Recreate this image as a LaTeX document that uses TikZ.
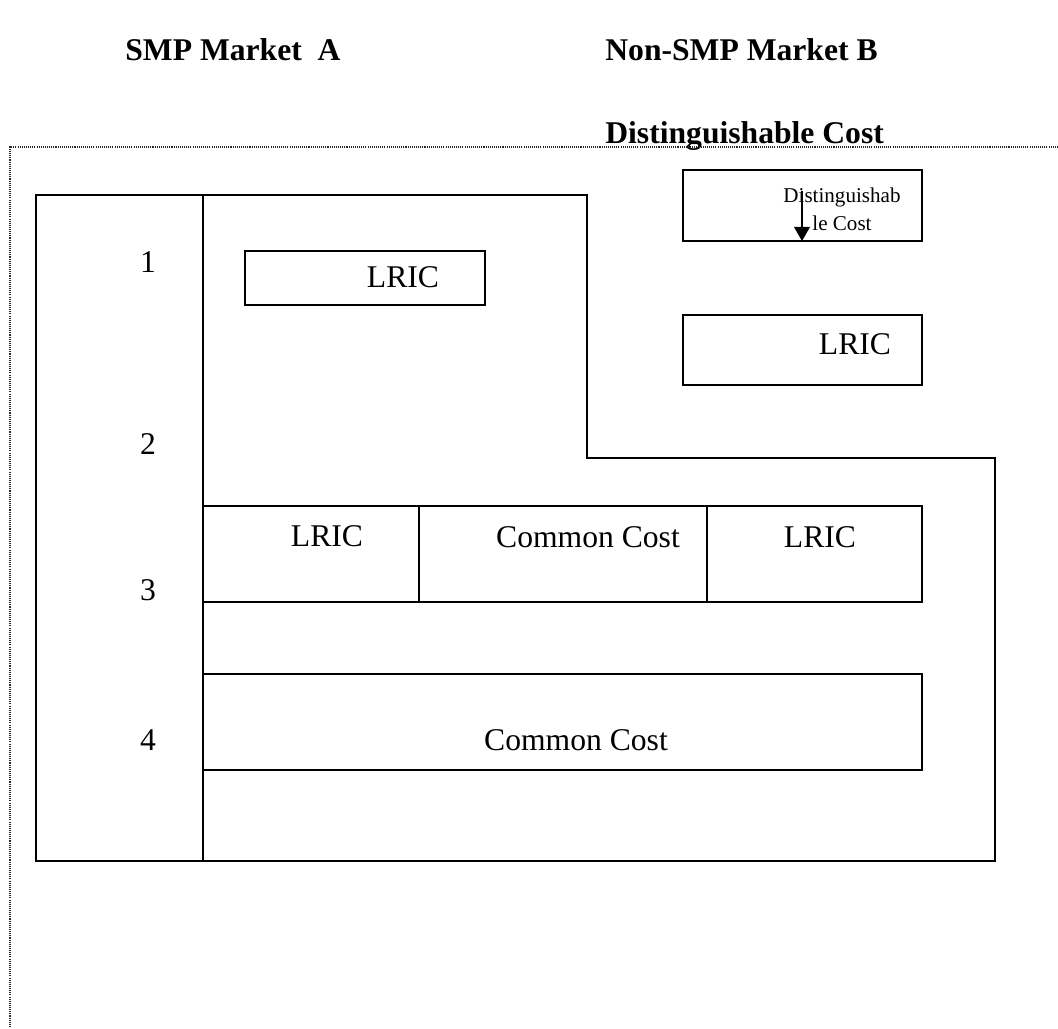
\documentclass[tikz,border=0pt]{standalone}
\usepackage{fontspec}
\setmainfont{Liberation Serif}
\usetikzlibrary{arrows.meta}

\tikzset{
  outline/.style={line width=1.1pt},
  costlabel/.style={font=\fontsize{18}{21}\selectfont, inner sep=0pt},
  headlabel/.style={font=\fontsize{18}{21}\selectfont\bfseries, inner sep=0pt, anchor=base west},
  smalllabel/.style={font=\fontsize{12}{16}\selectfont, align=center, inner sep=0pt},
  borderline/.style={line width=0.7pt, dash pattern=on 0.6pt off 0.6pt, black!85}
}

\begin{document}
\begin{tikzpicture}[x=0.02cm,y=-0.02cm]
\useasboundingbox (0,0) rectangle (1058,1028);
% headings
\node[headlabel] (headA) at (125,60) {SMP Market~~A};
\node[headlabel] (headB) at (605,60) {Non-SMP Market B};
\node[headlabel] (headD) at (605,143) {Distinguishable Cost};
% dotted frame
\draw[borderline] (1058,147) -- (10,147) -- (10,1028);
% market A column and outer outline
\draw[outline] (36,195) rectangle (203,861);
\draw[outline] (203,195) -- (587,195) -- (587,458) -- (995,458) -- (995,861) -- (203,861);
\foreach \n/\y in {1/262,2/444,3/590,4/740}
  \node[costlabel] (num\n) at (148,\y) {\n};
% upper boxes
\draw[outline] (245,251) rectangle (485,305);
\node[costlabel] (lricA) at (403,277) {LRIC};
\draw[outline] (683,170) rectangle (922,241);
\coordinate (distbase) at (683,241);
\node[smalllabel] (distB) at (842,209) {Distinguishab\\le Cost};
\coordinate (arrtop) at (802,191);
\draw[line width=0.7pt, -{Triangle[length=8pt,width=9pt]}] (arrtop) -- (arrtop |- distbase);
\draw[outline] (683,315) rectangle (922,385);
\node[costlabel] (lricB) at (855,344) {LRIC};
% row 3
\draw[outline] (203,506) rectangle (922,602);
\draw[outline] (419,506) -- (419,602);
\draw[outline] (707,506) -- (707,602);
\node[costlabel] (lricC) at (327,536) {LRIC};
\node[costlabel] (commonA) at (588,537) {Common Cost};
\node[costlabel] (lricD) at (820,537) {LRIC};
% row 4
\draw[outline] (203,674) rectangle (922,770);
\node[costlabel] (commonB) at (576,740) {Common Cost};
\end{tikzpicture}
\end{document}
